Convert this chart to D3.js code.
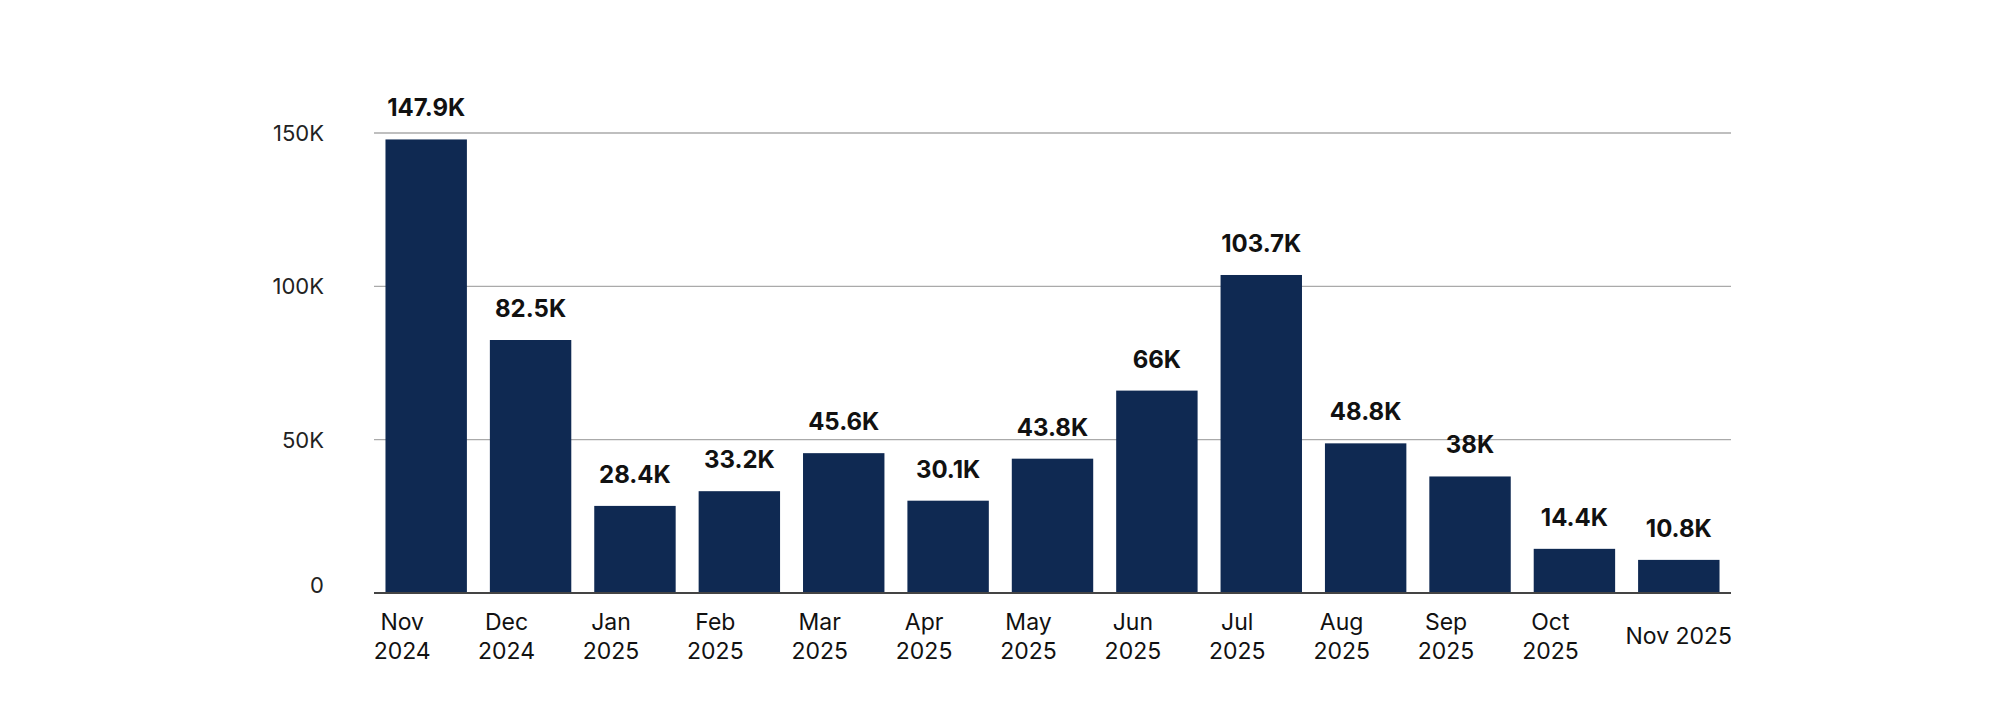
<!DOCTYPE html>
<html><head><meta charset="utf-8">
<script src="https://cdn.jsdelivr.net/npm/d3@7"></script>
<style>body{margin:0;background:#fff}text{font-family:Inter,sans-serif}</style>
</head><body><svg id="c" width="2000" height="712"></svg>
<script>
const categories=["Nov 2024","Dec 2024","Jan 2025","Feb 2025","Mar 2025","Apr 2025","May 2025","Jun 2025","Jul 2025","Aug 2025","Sep 2025","Oct 2025","Nov 2025"];
const values=[147900,82500,28400,33200,45600,30100,43800,66000,103700,48800,38000,14400,10800];
const valueLabels=["147.9K","82.5K","28.4K","33.2K","45.6K","30.1K","43.8K","66K","103.7K","48.8K","38K","14.4K","10.8K"];
const yTicks=[0,50000,100000,150000];
const yTickLabels=["0","50K","100K","150K"];
const svg=d3.select("#c");
const x=d3.scaleBand().domain(categories).range([374,1731]).paddingInner(0.22).paddingOuter(0.11);
const y=d3.scaleLinear().domain([0,150000]).range([593,133]);
svg.append("g").selectAll("line").data(yTicks.slice(1)).join("line")
 .attr("x1",374).attr("x2",1731).attr("y1",d=>y(d)).attr("y2",d=>y(d)).attr("stroke","#aaa").attr("stroke-width",1.3);
svg.append("g").selectAll("text").data(yTicks).join("text")
 .attr("x",324).attr("y",d=>y(d)+(d===0?0:8)).attr("text-anchor","end").attr("font-size",22).attr("fill","#222").text((d,i)=>yTickLabels[i]);
svg.append("g").selectAll("rect").data(values).join("rect")
 .attr("x",(d,i)=>x(categories[i])).attr("width",x.bandwidth()).attr("y",d=>y(d)).attr("height",d=>y(0)-y(d)).attr("fill","#0f2952");
svg.append("line").attr("x1",374).attr("x2",1731).attr("y1",y(0)).attr("y2",y(0)).attr("stroke","#444").attr("stroke-width",2);
svg.append("g").selectAll("text").data(values).join("text")
 .attr("x",(d,i)=>x(categories[i])+x.bandwidth()/2).attr("y",d=>y(d)-23).attr("text-anchor","middle")
 .attr("font-size",24).attr("font-weight",700).attr("fill","#111").text((d,i)=>valueLabels[i]);
const xl=svg.append("g");
categories.forEach((c,i)=>{
  const cx=x(c)+x.bandwidth()/2;
  if(i===categories.length-1){
    xl.append("text").attr("x",cx).attr("y",644).attr("text-anchor","middle").attr("font-size",23).attr("fill","#111").text(c);
  } else {
    const p=c.split(" ");
    const t=xl.append("text").attr("x",cx-24).attr("y",630).attr("text-anchor","middle").attr("font-size",23).attr("fill","#111");
    t.append("tspan").attr("x",cx-24).text(p[0]);
    t.append("tspan").attr("x",cx-24).attr("dy",29).text(p[1]);
  }
});
</script></body></html>
